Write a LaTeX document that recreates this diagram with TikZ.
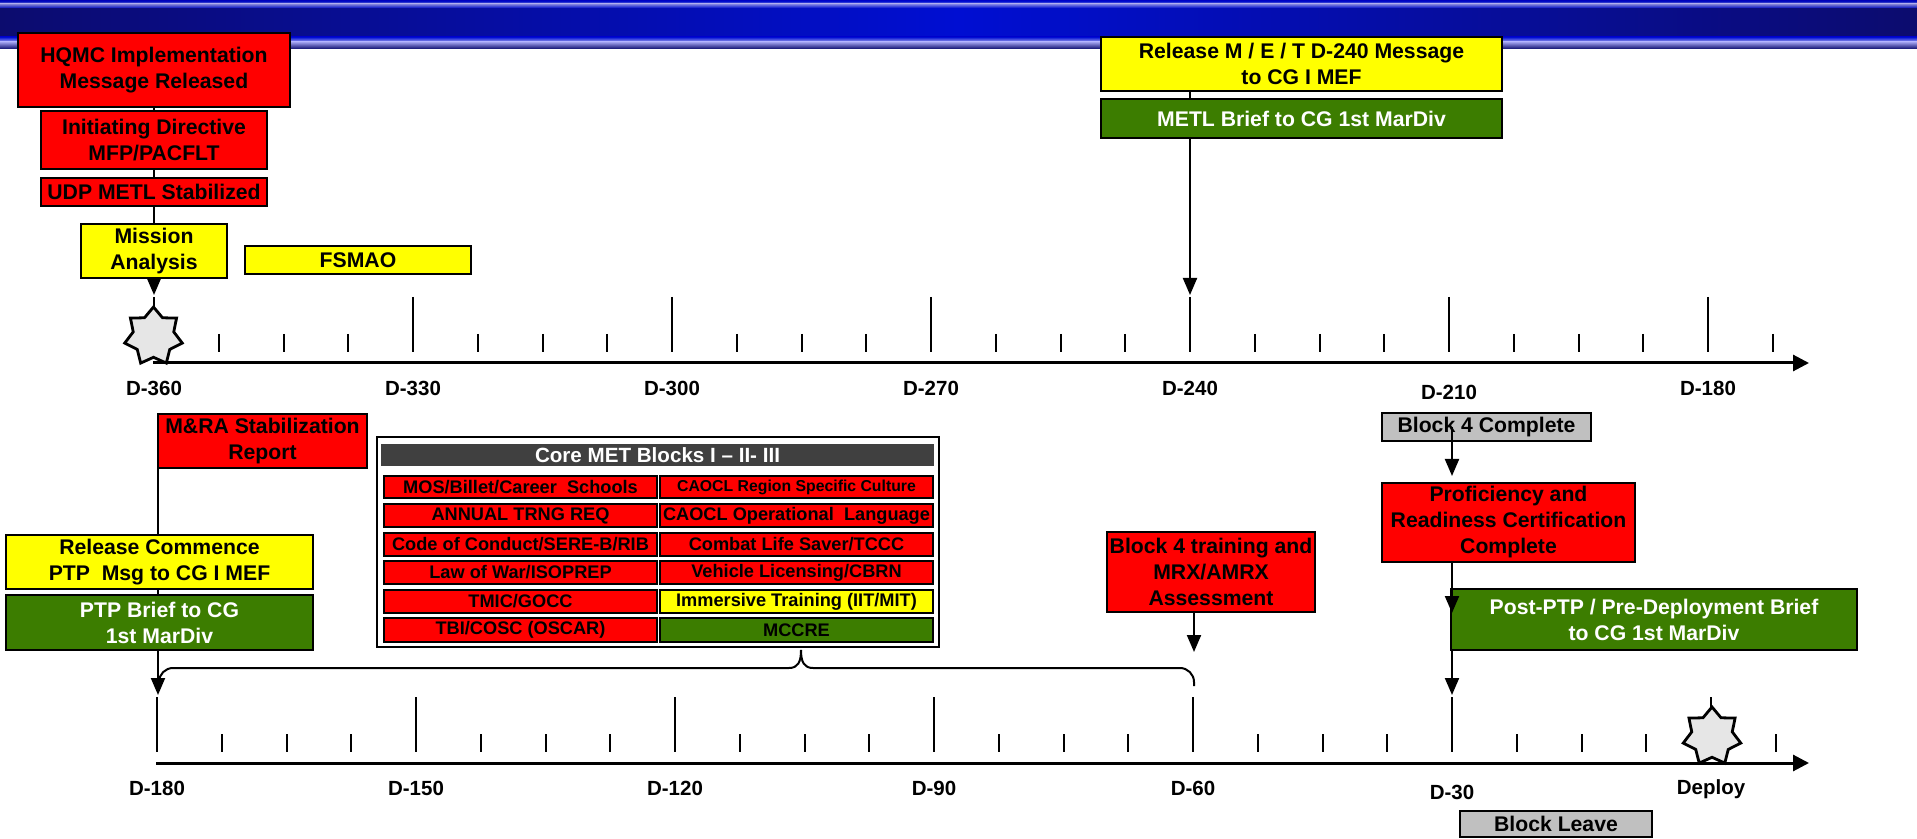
\documentclass[tikz,border=0pt]{standalone}
\usepackage{fontspec}
\setmainfont{Liberation Sans}
\usetikzlibrary{arrows.meta,shapes.geometric}
\definecolor{myred}{RGB}{255,0,0}
\definecolor{myyellow}{RGB}{255,255,0}
\definecolor{mygreen}{RGB}{60,125,0}
\definecolor{mygray}{RGB}{192,192,192}
\definecolor{mydark}{RGB}{64,64,64}
\definecolor{bandA}{RGB}{12,12,110}
\definecolor{bandB}{RGB}{0,14,210}
\definecolor{bandC}{RGB}{160,160,238}
\definecolor{starfill}{RGB}{230,230,230}
\newcommand\mainfs{\fontsize{10.6}{13}\selectfont\bfseries}
\newcommand\rowfs{\fontsize{9.1}{10}\selectfont\bfseries}
\newcommand\smallrowfs{\fontsize{7.9}{9}\selectfont\bfseries}
\newcommand\hdrfs{\fontsize{10.3}{12}\selectfont\bfseries}
\newcommand\axfs{\fontsize{10.25}{12}\selectfont\bfseries}
\tikzset{
  tbox/.style={draw=black, line width=1.4pt, inner sep=0pt, outer sep=0pt,
    anchor=north west, align=center, font=\mainfs},
  rowbox/.style={tbox, line width=0.6pt, font=\rowfs},
  conn/.style={line width=1pt},
  arr/.style={conn, -{Triangle[width=7pt,length=8.5pt]}},
  axisline/.style={line width=1.5pt, -{Triangle[width=8pt,length=8pt]}},
  tickline/.style={line width=1pt},
  axlab/.style={font=\axfs, inner sep=0pt},
  starnode/.style={star, star points=7, star point ratio=1.42, draw=black,
    line width=1.4pt, fill=starfill, minimum size=29.5pt, inner sep=0pt},
}
\newcommand\tbox[7]{%
  \node[#6,minimum width={(#4-#2)*0.5pt},minimum height={(#5-#3)*0.5pt}] (#1) at (#2,#3) {#7};}
\begin{document}
\begin{tikzpicture}[x=0.5pt,y=-0.5pt]
\useasboundingbox (0,0) rectangle (1917,839);
% banner
\shade[left color=bandA, right color=bandA, middle color=bandB] (0,0) rectangle (1917,49);
\shade[top color=bandB, bottom color=bandC, opacity=0.8] (0,1) rectangle (1917,4);
\shade[top color=bandC, bottom color=bandB, opacity=0.8] (0,4) rectangle (1917,8);
\shade[top color=bandB, bottom color=bandC] (0,37) rectangle (1917,42);
\shade[top color=bandC, bottom color=bandA] (0,42) rectangle (1917,49);

% top axis
\foreach \j in {1,...,25} {\draw[tickline] (154+64.75*\j,334) -- (154+64.75*\j,352);}
\foreach \k/\lab/\yy in {0/D-360/388,1/D-330/388,2/D-300/388,3/D-270/388,4/D-240/388,5/D-210/392,6/D-180/388} {
  \draw[tickline] (154+259*\k,297) -- (154+259*\k,352);
  \node[axlab] (tl\k) at (154+259*\k,\yy) {\lab};
}
\coordinate (tstart) at (153,363);
\coordinate (tend) at (1809,363);
\draw[axisline] (tstart) -- (tend);

% bottom axis
\foreach \j in {1,...,25} {\draw[tickline] (157+64.75*\j,734) -- (157+64.75*\j,752);}
\foreach \k/\lab/\yy in {0/D-180/788,1/D-150/788,2/D-120/788,3/D-90/788,4/D-60/788,5/D-30/792,6/Deploy/789} {
  \draw[tickline] (157+259*\k,697) -- (157+259*\k,752);
  \node[axlab] (bl\k) at (157+259*\k,\yy) {\lab};
}
\coordinate (bstart) at (156,763);
\coordinate (bend) at (1809,763);
\draw[axisline] (bstart) -- (bend);

% stars
\node[starnode] (star1) at (153.5,336.5) {};
\node[starnode] (star2) at (1712,736.5) {};

% top boxes
\tbox{hqmc}{18}{33}{290}{107}{tbox, fill=myred}{HQMC Implementation\\Message Released}
\tbox{initdir}{41}{111}{267}{169}{tbox, fill=myred}{Initiating Directive\\MFP/PACFLT}
\tbox{udp}{41}{178}{267}{206}{tbox, fill=myred}{UDP METL Stabilized}
\tbox{mission}{81}{224}{227}{278}{tbox, fill=myyellow}{Mission\\Analysis}
\tbox{fsmao}{245}{246}{471}{274}{tbox, fill=myyellow}{FSMAO}
\tbox{release}{1101}{37}{1502}{91}{tbox, fill=myyellow}{Release M / E / T D-240 Message\\to CG I MEF}
\tbox{metl}{1101}{99}{1502}{138}{tbox, fill=mygreen, text=white}{METL Brief to CG 1st MarDiv}

\coordinate (c360) at (154,295);
\draw[conn] (hqmc.south) -- (initdir.north);
\draw[conn] (initdir.south) -- (udp.north);
\draw[conn] (udp.south) -- (mission.north);
\draw[arr] (mission.south) -- (c360);
\coordinate (c240) at (1190,295);
\draw[conn] (release.south -| c240) -- (metl.north -| c240);
\draw[arr] (metl.south -| c240) -- (c240);

% bottom boxes
\tbox{mra}{158}{414}{367}{468}{tbox, fill=myred}{M\&RA Stabilization\\Report}
\tbox{relcomm}{6}{535}{313}{589}{tbox, fill=myyellow}{Release Commence\\PTP\ \ Msg to CG I MEF}
\tbox{ptpbrief}{6}{595}{313}{650}{tbox, fill=mygreen, text=white}{PTP Brief to CG\\1st MarDiv}
\coordinate (c180) at (158,695);
\draw[conn] (mra.south west) -- (relcomm.north -| c180);
\draw[conn] (relcomm.south -| c180) -- (ptpbrief.north -| c180);
\draw[arr] (ptpbrief.south -| c180) -- (c180);

% core MET
\tbox{core}{377}{437}{939}{647}{tbox, fill=white, line width=1pt}{}
\tbox{hdr}{382}{445}{933}{465}{tbox, fill=mydark, draw=mydark, line width=0.6pt, text=white, font=\hdrfs}{Core MET Blocks I – II- III}
\tbox{l1}{384}{476}{657}{498}{rowbox, fill=myred}{MOS/Billet/Career\ \ Schools}
\tbox{l2}{384}{504}{657}{527}{rowbox, fill=myred}{ANNUAL TRNG REQ}
\tbox{l3}{384}{533}{657}{556}{rowbox, fill=myred}{Code of Conduct/SERE-B/RIB}
\tbox{l4}{384}{561}{657}{584}{rowbox, fill=myred}{Law of War/ISOPREP}
\tbox{l5}{384}{590}{657}{613}{rowbox, fill=myred}{TMIC/GOCC}
\tbox{l6}{384}{618}{657}{642}{rowbox, fill=myred}{TBI/COSC (OSCAR)}
\tbox{r1}{660}{476}{933}{498}{rowbox, fill=myred, font=\smallrowfs}{CAOCL Region Specific Culture}
\tbox{r2}{660}{504}{933}{527}{rowbox, fill=myred}{CAOCL Operational\ \ Language}
\tbox{r3}{660}{533}{933}{556}{rowbox, fill=myred}{Combat Life Saver/TCCC}
\tbox{r4}{660}{561}{933}{584}{rowbox, fill=myred}{Vehicle Licensing/CBRN}
\tbox{r5}{660}{590}{933}{613}{rowbox, fill=myyellow}{Immersive Training (IIT/MIT)}
\tbox{r6}{660}{618}{933}{642}{rowbox, fill=mygreen}{MCCRE}

% brace
\coordinate (brL) at (159,686);
\coordinate (brR) at (1194,686);
\coordinate (brM) at (801,650);
\draw[conn, rounded corners=7pt] (brL) -- (159,668) -- (789,668);
\draw[conn] (789,668) .. controls (798,668) and (801,662) .. (brM);
\draw[conn] (brM) .. controls (801,662) and (804,668) .. (813,668);
\draw[conn, rounded corners=7pt] (813,668) -- (1194,668) -- (brR);

% right side bottom
\tbox{b4train}{1107}{532}{1315}{612}{tbox, fill=myred}{Block 4 training and\\MRX/AMRX\\Assessment}
\coordinate (c60) at (1194,652);
\draw[arr] (b4train.south -| c60) -- (c60);

\tbox{b4c}{1382}{413}{1591}{441}{tbox, fill=mygray}{Block 4 Complete}
\tbox{prof}{1382}{483}{1635}{562}{tbox, fill=myred}{Proficiency and\\Readiness Certification\\Complete}
\tbox{postptp}{1451}{589}{1857}{650}{tbox, fill=mygreen, text=white}{Post-PTP / Pre-Deployment Brief\\to CG 1st MarDiv}
\tbox{bleave}{1460}{811}{1652}{837}{tbox, fill=mygray}{Block Leave}
\coordinate (c30a) at (1452,476);
\coordinate (c30b) at (1452,613);
\coordinate (c30c) at (1452,695);
\draw[arr] (b4c.center -| c30a) -- (c30a);
\draw[arr] (prof.south -| c30b) -- (c30b);
\draw[arr] (postptp.south -| c30c) -- (c30c);
\end{tikzpicture}
\end{document}
